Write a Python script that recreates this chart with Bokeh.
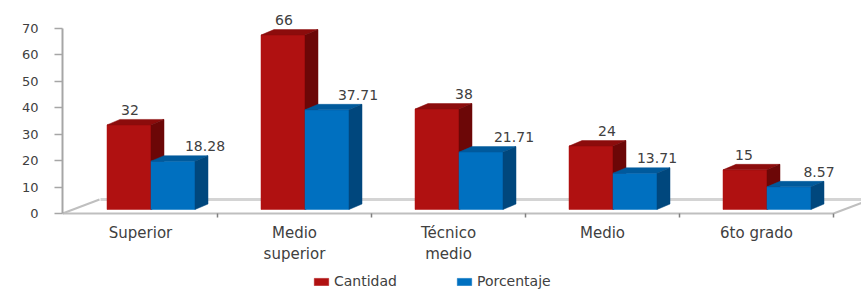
from bokeh.plotting import figure
from bokeh.models import Range1d, FixedTicker, Legend, LegendItem, ColumnDataSource
from bokeh.embed import file_html
from bokeh.resources import INLINE
from bokeh.core.properties import value

# ---------------- data ----------------
categories = ["Superior", "Medio\nsuperior", "Técnico\nmedio", "Medio", "6to grado"]
cantidad = [32, 66, 38, 24, 15]
porcentaje = [18.28, 37.71, 21.71, 13.71, 8.57]
cantidad_labels = ["32", "66", "38", "24", "15"]
porcentaje_labels = ["18.28", "37.71", "21.71", "13.71", "8.57"]
series_names = ["Cantidad", "Porcentaje"]
y_ticks = [0, 10, 20, 30, 40, 50, 60, 70]

# ---------------- style / geometry ----------------
W, H = 861, 289
FRAME_L = 62
PX_X = 154.0            # px per category
PX_Y = 185.0 / 70.0     # px per value unit
ZERO_FROM_TOP = 213.0   # px from plot top to value 0 (front floor edge)

FONT = "DejaVu Sans"
TXT = "#404040"
GRID = "#A6A6A6"

RED = dict(front="#B01111", top="#8C0C0C", side="#6C0707")
BLUE = dict(front="#0070C0", top="#005A9C", side="#00477D")

bar_w = 44.0 / PX_X
ox, oy = 10.5 / PX_X, 4.0 / PX_Y       # bar placement inside floor depth
dx, dy = 13.0 / PX_X, 5.5 / PX_Y       # bar depth
fdx, fdy = 37.0 / PX_X, 14.0 / PX_Y    # floor depth

red_label_nudge = [1, 1, 27, 16, -1]     # px
blue_label_nudge = [32, 31, 33, 22, 30]  # px

x_start = -0.5 - 1.0 / PX_X
x_end = x_start + (W - FRAME_L) / PX_X
y_end = ZERO_FROM_TOP / PX_Y
y_start = -(H - ZERO_FROM_TOP) / PX_Y

p = figure(width=W, height=H, output_backend="svg", toolbar_location=None,
           x_range=Range1d(x_start, x_end), y_range=Range1d(y_start, y_end),
           x_axis_location=None, y_axis_location="left",
           min_border_left=FRAME_L, min_border_right=0,
           min_border_top=0, min_border_bottom=0)
p.outline_line_color = None
p.xgrid.visible = False
p.ygrid.visible = False
p.background_fill_color = "white"
p.border_fill_color = "white"

ax = p.yaxis[0]
ax.ticker = FixedTicker(ticks=y_ticks)
ax.bounds = (y_ticks[0], y_ticks[-1])
ax.axis_line_color = GRID
ax.axis_line_width = 2
ax.major_tick_line_color = GRID
ax.major_tick_line_width = 1.5
ax.major_tick_out = 8
ax.major_tick_in = 0
ax.minor_tick_line_color = None
ax.major_label_standoff = 16
ax.major_label_text_font = FONT
ax.major_label_text_font_size = "13px"
ax.major_label_text_color = TXT

n = len(categories)
idx = list(range(n))

# ---------------- floor ----------------
last = n - 0.5
p.segment(x0=[-0.5 + fdx], y0=[fdy], x1=[x_end + 1], y1=[fdy],
          line_color="#D4D4D4", line_width=3)
p.segment(x0=[x_start, x_start, last],
          y0=[0, 0, 0],
          x1=[last, x_start + fdx, last + fdx],
          y1=[0, fdy, fdy],
          line_color="#BFBFBF", line_width=2)
bounds = [i + 0.5 for i in idx]
p.segment(x0=bounds, y0=[0] * n, x1=bounds, y1=[-4.0 / PX_Y] * n,
          line_color="#808080", line_width=1.5)

# ---------------- 3D bars ----------------
front_renderers = []
for s, (vals, col) in enumerate([(cantidad, RED), (porcentaje, BLUE)]):
    lefts = [i - bar_w + s * bar_w + ox for i in idx]
    rights = [l + bar_w for l in lefts]
    bottoms = [oy] * n
    tops = [oy + v for v in vals]
    r = p.quad(left=lefts, right=rights, bottom=bottoms, top=tops,
               fill_color=col["front"], line_color=col["front"], line_width=0.5)
    front_renderers.append(r)
    top_xs = [[l, rr, rr + dx, l + dx] for l, rr in zip(lefts, rights)]
    top_ys = [[t, t, t + dy, t + dy] for t in tops]
    p.patches(xs=top_xs, ys=top_ys, fill_color=col["top"], line_color=col["top"], line_width=0.5)
    side_xs = [[rr, rr + dx, rr + dx, rr] for rr in rights]
    side_ys = [[b, b + dy, t + dy, t] for b, t in zip(bottoms, tops)]
    p.patches(xs=side_xs, ys=side_ys, fill_color=col["side"], line_color=col["side"], line_width=0.5)

# ---------------- value labels ----------------
for s, (vals, labs, nudge) in enumerate([(cantidad, cantidad_labels, red_label_nudge),
                                        (porcentaje, porcentaje_labels, blue_label_nudge)]):
    src = ColumnDataSource(dict(
        x=[i - bar_w / 2 + s * bar_w + ox for i in idx],
        y=[v + oy + dy for v in vals],
        t=labs, nx=nudge))
    p.text(x="x", y="y", text="t", source=src, x_offset="nx", y_offset=-9.5,
           text_align="center", text_baseline="middle",
           text_font=value(FONT), text_font_size="14px", text_color=TXT)

# ---------------- category labels ----------------
p.text(x=idx, y=[0] * n, text=categories, y_offset=10,
       text_align="center", text_baseline="top", text_line_height=1.2,
       text_font=value(FONT), text_font_size="15px", text_color=TXT)

# ---------------- legend ----------------
legend = Legend(items=[LegendItem(label=series_names[0], renderers=[front_renderers[0]]),
                       LegendItem(label=series_names[1], renderers=[front_renderers[1]])],
                orientation="horizontal", location=(250, 0))
legend.padding = 0
legend.margin = 0
legend.spacing = 58
legend.glyph_width = 18
legend.glyph_height = 9
legend.label_standoff = 4
legend.label_height = 12
legend.label_text_font = FONT
legend.label_text_font_size = "14px"
legend.label_text_color = TXT
legend.border_line_alpha = 0
legend.background_fill_alpha = 0
p.add_layout(legend)

open("out.html", "w").write(file_html(p, INLINE))
